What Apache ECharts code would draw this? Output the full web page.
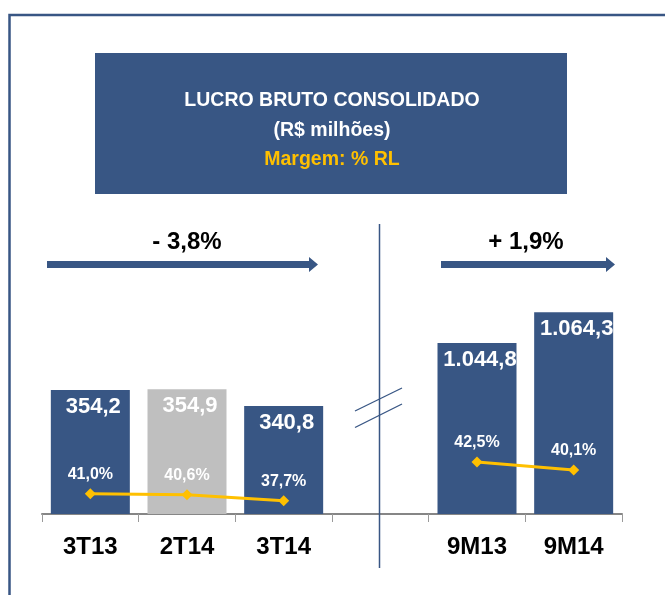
<!DOCTYPE html>
<html>
<head>
<meta charset="utf-8">
<script src="https://cdn.jsdelivr.net/npm/echarts@6/dist/echarts.min.js"></script>
<style>
html,body{margin:0;padding:0;background:#fff;}
#c{width:665px;height:595px;}
</style>
</head>
<body>
<div id="c"></div>
<script>
// ---- data ----
const categories = ['3T13', '2T14', '3T14', '', '9M13', '9M14'];
const quarterProfit = [354.2, 354.9, 340.8, null, null, null];   // R$ milhões
const ytdProfit = [null, null, null, null, 1044.8, 1064.3];      // R$ milhões
const quarterMargin = [41.0, 40.6, 37.7, null, null, null];      // % RL
const ytdMargin = [null, null, null, null, 42.5, 40.1];          // % RL
const titleLines = ['LUCRO BRUTO CONSOLIDADO', '(R$ milhões)', 'Margem: % RL'];
const changeLabels = ['- 3,8%', '+ 1,9%'];

// ---- styles ----
const BLUE = '#385684';
const GRAY = '#BFBFBF';
const YELLOW = '#FFC000';
const FONT = '"Liberation Sans", Arial, sans-serif';

const fmt = (v, d) => {
  const parts = v.toFixed(d).split('.');
  parts[0] = parts[0].replace(/\B(?=(\d{3})+(?!\d))/g, '.');
  return parts.join(',');
};
const toData = arr => arr.map(v => v == null ? '-' : v);

const chart = echarts.init(document.getElementById('c'), null, {renderer: 'canvas'});

const barLabel = {
  show: true, position: 'insideTop', distance: 6, offset: [3, 0],
  color: '#fff', fontFamily: FONT, fontWeight: 'bold', fontSize: 22,
  formatter: p => fmt(p.value, 1)
};
const lineLabel = {
  show: true, position: 'top', distance: 6,
  color: '#fff', fontFamily: FONT, fontWeight: 'bold', fontSize: 16,
  formatter: p => fmt(p.value, 1) + '%'
};

function arrow(x0, x1, yc) {
  const h = 3.5, hh = 7.5, head = 9;
  return {
    type: 'polygon', z: 10,
    shape: {points: [[x0, yc - h], [x1 - head, yc - h], [x1 - head, yc - hh], [x1, yc],
                     [x1 - head, yc + hh], [x1 - head, yc + h], [x0, yc + h]]},
    style: {fill: BLUE}
  };
}

const option = {
  animation: false,
  backgroundColor: '#fff',
  grid: {left: 42, right: 43, top: 300, bottom: 81},
  xAxis: {
    type: 'category', data: categories,
    axisLine: {lineStyle: {color: '#868686', width: 2}},
    axisTick: {show: true, length: 8, lineStyle: {color: '#9a9a9a', width: 1}},
    axisLabel: {color: '#000', fontFamily: FONT, fontWeight: 'bold', fontSize: 24, margin: 21}
  },
  yAxis: [
    {type: 'value', min: 250, max: 430, show: false},
    {type: 'value', min: 937, max: 1072, show: false},
    {type: 'value', min: 31.5, max: 132.5, show: false},
    {type: 'value', min: 26.9, max: 91.1, show: false}
  ],
  series: [
    {
      type: 'bar', yAxisIndex: 0, data: toData(quarterProfit),
      barWidth: 79, barGap: '-100%', z: 2,
      itemStyle: {color: p => p.name === '2T14' ? GRAY : BLUE},
      label: barLabel
    },
    {
      type: 'bar', yAxisIndex: 1, data: toData(ytdProfit),
      barWidth: 79, barGap: '-100%', z: 2,
      itemStyle: {color: BLUE},
      label: barLabel
    },
    {
      type: 'line', yAxisIndex: 2, data: toData(quarterMargin), z: 5,
      symbol: 'diamond', symbolSize: 11,
      lineStyle: {color: YELLOW, width: 3}, itemStyle: {color: YELLOW},
      label: lineLabel
    },
    {
      type: 'line', yAxisIndex: 3, data: toData(ytdMargin), z: 5,
      symbol: 'diamond', symbolSize: 11,
      lineStyle: {color: YELLOW, width: 3}, itemStyle: {color: YELLOW},
      label: lineLabel
    }
  ],
  graphic: [
    // outer frame
    {type: 'rect', shape: {x: 9.5, y: 15, width: 800, height: 800},
     style: {fill: null, stroke: BLUE, lineWidth: 2.5}},
    // title box
    {type: 'rect', shape: {x: 95, y: 53, width: 472, height: 141}, style: {fill: BLUE}},
    {type: 'text', x: 332, y: 101, style: {text: titleLines[0], fill: '#fff', font: 'bold 19.5px ' + FONT, align: 'center', verticalAlign: 'middle'}},
    {type: 'text', x: 332, y: 131, style: {text: titleLines[1], fill: '#fff', font: 'bold 19.5px ' + FONT, align: 'center', verticalAlign: 'middle'}},
    {type: 'text', x: 332, y: 160, style: {text: titleLines[2], fill: YELLOW, font: 'bold 19.5px ' + FONT, align: 'center', verticalAlign: 'middle'}},
    // change texts + arrows
    {type: 'text', x: 187, y: 242, style: {text: changeLabels[0], fill: '#000', font: 'bold 24px ' + FONT, align: 'center', verticalAlign: 'middle'}},
    {type: 'text', x: 526, y: 242, style: {text: changeLabels[1], fill: '#000', font: 'bold 24px ' + FONT, align: 'center', verticalAlign: 'middle'}},
    arrow(47, 318, 264.5),
    arrow(441, 615, 264.5),
    // separator and axis break
    {type: 'line', z: 10, shape: {x1: 379.5, y1: 224, x2: 379.5, y2: 568}, style: {stroke: BLUE, lineWidth: 1.5}},
    {type: 'line', z: 10, shape: {x1: 355, y1: 411, x2: 402, y2: 388}, style: {stroke: BLUE, lineWidth: 1.3}},
    {type: 'line', z: 10, shape: {x1: 355, y1: 427.5, x2: 402, y2: 404}, style: {stroke: BLUE, lineWidth: 1.3}}
  ]
};
chart.setOption(option);
</script>
</body>
</html>
